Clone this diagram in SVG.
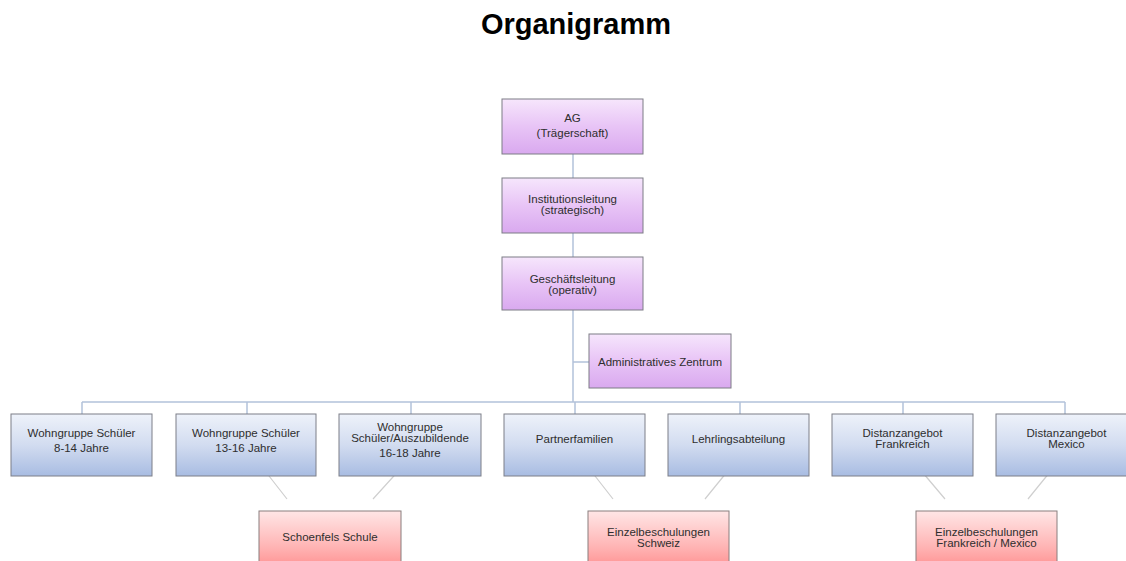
<svg xmlns="http://www.w3.org/2000/svg" width="1126" height="561" viewBox="0 0 1126 561">
<defs>
<linearGradient id="gP" x1="0" y1="0" x2="0" y2="1"><stop offset="0" stop-color="#f6e6fc"/><stop offset="0.5" stop-color="#e8c4f6"/><stop offset="1" stop-color="#d9a9ef"/></linearGradient>
<linearGradient id="gB" x1="0" y1="0" x2="0" y2="1"><stop offset="0" stop-color="#eef2fa"/><stop offset="0.5" stop-color="#d2dcf0"/><stop offset="1" stop-color="#a8bce2"/></linearGradient>
<linearGradient id="gR" x1="0" y1="0" x2="0" y2="1"><stop offset="0" stop-color="#ffe6e6"/><stop offset="0.6" stop-color="#ffb4b4"/><stop offset="1" stop-color="#ff8c8c"/></linearGradient>
</defs>
<style>
text{font-family:"Liberation Sans",Arial,sans-serif;font-size:11.5px;fill:#2e2e2e;text-anchor:middle}
.p{fill:url(#gP);stroke:#7d7d85;stroke-width:1}
.b{fill:url(#gB);stroke:#7d7f88;stroke-width:1}
.r{fill:url(#gR);stroke:#8a7f7f;stroke-width:1}
.c{stroke:#b3c2da;stroke-width:1.5;fill:none}
.d{stroke:#cfcfcf;stroke-width:1.2;fill:none}
.t{font-size:29px;font-weight:bold;fill:#000}
</style>
<rect width="1126" height="561" fill="#fff"/>
<text class="t" x="576" y="34">Organigramm</text>
<g id="connectors">
<path class="c" d="M573 154V178M573 233V257M573 310V402M573 362H589M82 402H1065M82 402V414M247 402V414M411 402V414M575 402V414M740 402V414M903 402V414M1065 402V414"/>
<path class="d" d="M262 467L287 499M402 467L373 499M588 467L613 499M731 467L705 499M918 467L945 499M1054 467L1028 499"/>
</g>
<g id="ag"><rect class="p" x="502" y="99" width="141" height="55"/><text x="572.5" y="122">AG</text><text x="572.5" y="137">(Trägerschaft)</text></g>
<g id="institutionsleitung"><rect class="p" x="502" y="178" width="141" height="55"/><text x="572.5" y="203">Institutionsleitung</text><text x="572.5" y="214">(strategisch)</text></g>
<g id="geschaeftsleitung"><rect class="p" x="502" y="257" width="141" height="53"/><text x="572.5" y="283">Geschäftsleitung</text><text x="572.5" y="294">(operativ)</text></g>
<g id="admin"><rect class="p" x="589" y="334" width="142" height="54"/><text x="660" y="366">Administratives Zentrum</text></g>
<g id="wg1"><rect class="b" x="11" y="414" width="141" height="62"/><text x="81.5" y="437">Wohngruppe Schüler</text><text x="81.5" y="452">8-14 Jahre</text></g>
<g id="wg2"><rect class="b" x="176" y="414" width="140" height="62"/><text x="246" y="437">Wohngruppe Schüler</text><text x="246" y="452">13-16 Jahre</text></g>
<g id="wg3"><rect class="b" x="339" y="414" width="142" height="62"/><text x="410" y="431">Wohngruppe</text><text x="410" y="442">Schüler/Auszubildende</text><text x="410" y="457">16-18 Jahre</text></g>
<g id="partner"><rect class="b" x="504" y="414" width="141" height="62"/><text x="574.5" y="443">Partnerfamilien</text></g>
<g id="lehr"><rect class="b" x="668" y="414" width="141" height="62"/><text x="738.5" y="443">Lehrlingsabteilung</text></g>
<g id="dist-fr"><rect class="b" x="832" y="414" width="141" height="62"/><text x="902.5" y="437">Distanzangebot</text><text x="902.5" y="448">Frankreich</text></g>
<g id="dist-mx"><rect class="b" x="996" y="414" width="141" height="62"/><text x="1066.5" y="437">Distanzangebot</text><text x="1066.5" y="448">Mexico</text></g>
<g id="schule"><rect class="r" x="259" y="511" width="142" height="60"/><text x="330" y="541">Schoenfels Schule</text></g>
<g id="einzel-ch"><rect class="r" x="588" y="511" width="141" height="60"/><text x="658.5" y="536">Einzelbeschulungen</text><text x="658.5" y="547">Schweiz</text></g>
<g id="einzel-frmx"><rect class="r" x="916" y="511" width="141" height="60"/><text x="986.5" y="536">Einzelbeschulungen</text><text x="986.5" y="547">Frankreich / Mexico</text></g>
</svg>
